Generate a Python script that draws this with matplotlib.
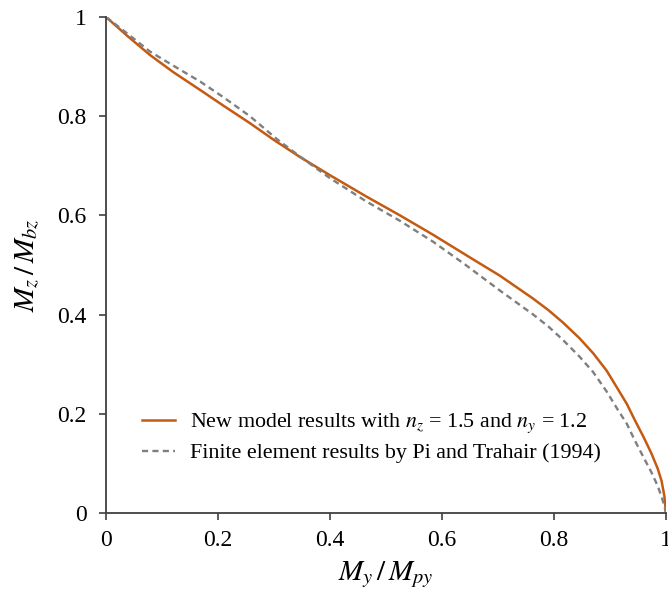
import matplotlib
matplotlib.use("Agg")
import matplotlib.pyplot as plt

# Values
model_x = [0.0, 0.04, 0.079, 0.12, 0.168, 0.21, 0.257, 0.30, 0.346, 0.40,
           0.465, 0.525, 0.584, 0.656, 0.704, 0.763, 0.79, 0.815, 0.845,
           0.87, 0.894, 0.914, 0.93, 0.944, 0.96, 0.974, 0.985, 0.992,
           0.997, 1.0]
model_y = [1.0, 0.960, 0.923, 0.889, 0.853, 0.821, 0.786, 0.752, 0.718, 0.681,
           0.638, 0.600, 0.561, 0.511, 0.478, 0.432, 0.409, 0.385, 0.353,
           0.322, 0.287, 0.250, 0.220, 0.188, 0.153, 0.120, 0.090, 0.065,
           0.035, 0.0]

fe_x = [0.0, 0.04, 0.079, 0.12, 0.168, 0.21, 0.257, 0.305, 0.346, 0.40,
        0.465, 0.525, 0.584, 0.64, 0.704, 0.763, 0.79, 0.815, 0.845, 0.87,
        0.894, 0.914, 0.93, 0.944, 0.96, 0.974, 0.985, 0.992, 0.997, 1.0]
fe_y = [1.0, 0.965, 0.930, 0.902, 0.870, 0.838, 0.800, 0.754, 0.719, 0.675,
        0.628, 0.589, 0.547, 0.502, 0.448, 0.400, 0.376, 0.350, 0.316, 0.284,
        0.245, 0.208, 0.180, 0.147, 0.112, 0.082, 0.055, 0.033, 0.015, 0.0]

ticks = [0, 0.2, 0.4, 0.6, 0.8, 1]
tick_labels = ["0", "0.2", "0.4", "0.6", "0.8", "1"]

plt.rcParams["font.family"] = ["Liberation Serif", "DejaVu Serif"]
plt.rcParams["mathtext.fontset"] = "stix"

fig = plt.figure(figsize=(6.68, 5.91), dpi=100)
ax = fig.add_axes([0.1587, 0.132, 0.8383, 0.8392])

ax.plot(model_x, model_y, color="#C55A11", lw=1.8,
        label="New model results with $n_z$ = 1.5 and $n_y$ = 1.2")
ax.plot(fe_x, fe_y, color="#7F7F7F", lw=1.7, ls=(0, (2.6, 1.8)),
        label="Finite element results by Pi and Trahair (1994)")

ax.set_xlim(0, 1)
ax.set_ylim(0, 1)
ax.set_xticks(ticks)
ax.set_xticklabels(tick_labels)
ax.set_yticks(ticks)
ax.set_yticklabels(tick_labels)

for side in ["top", "right"]:
    ax.spines[side].set_visible(False)
for side in ["left", "bottom"]:
    ax.spines[side].set_color("#404040")
    ax.spines[side].set_linewidth(1.3)
ax.tick_params(direction="out", length=5, width=1.2, color="#404040",
               labelsize=17, labelcolor="black")
ax.tick_params(axis="x", pad=7)
ax.tick_params(axis="y", pad=9)

ax.set_xlabel("$M_y\\,/\\,M_{py}$", fontsize=21, va="center")
ax.set_ylabel("$M_z\\,/\\,M_{bz}$", fontsize=21, va="center")
ax.xaxis.set_label_coords(0.5, -0.125)
ax.yaxis.set_label_coords(-0.14, 0.5)

ax.legend(loc="lower left", bbox_to_anchor=(0.064, 0.10), frameon=False,
          fontsize=15.8, handlelength=1.5, handletextpad=0.7,
          labelspacing=0.35, borderpad=0, borderaxespad=0)

fig.savefig("out.png", dpi=100)
